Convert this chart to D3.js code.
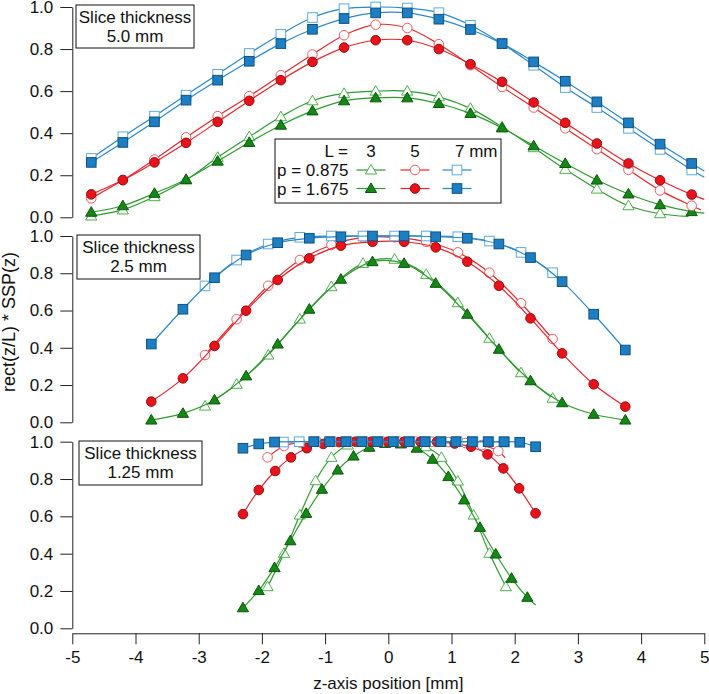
<!DOCTYPE html>
<html><head><meta charset="utf-8">
<script src="https://cdn.jsdelivr.net/npm/d3@7"></script>
<style>
body{margin:0;background:#fff}
text{font-family:"Liberation Sans",Arial,Helvetica,sans-serif}
</style>
</head><body>
<svg id="c" width="709" height="694"></svg>
<script>
// ---------- data ----------
const xTicks = [-5,-4,-3,-2,-1,0,1,2,3,4,5];
const yTicks = [0,0.2,0.4,0.6,0.8,1.0];
const legendCols = ["3","5","7 mm"];
const legendRows = ["p = 0.875","p = 1.675"];
const panelTitles = [["Slice thickness","5.0 mm"],["Slice thickness","2.5 mm"],["Slice thickness","1.25 mm"]];

// Slice thickness 5.0 mm
const topX = [-4.7,-4.2,-3.7,-3.2,-2.7,-2.2,-1.7,-1.2,-0.7,-0.2,0.3,0.8,1.3,1.8,2.3,2.8,3.3,3.8,4.3,4.8];
const topGreenOpenX = [-4.7,-4.2,-3.7,-3.2,-2.7,-2.2,-1.7,-1.2,-0.7,-0.2,0.3,0.8,1.3,1.8,2.3,2.8,3.3,3.8,4.3];
const topGreenOpen   = [0.006,0.035,0.098,0.177,0.285,0.383,0.478,0.554,0.589,0.600,0.600,0.573,0.518,0.430,0.331,0.228,0.134,0.055,0.017];
const topGreenFilled = [0.024,0.055,0.114,0.180,0.267,0.356,0.438,0.506,0.554,0.568,0.568,0.541,0.494,0.425,0.340,0.256,0.177,0.111,0.060,0.027];
const topRedOpen     = [0.090,0.177,0.275,0.380,0.481,0.576,0.676,0.774,0.866,0.916,0.900,0.823,0.723,0.620,0.522,0.423,0.324,0.226,0.128,0.055];
const topRedFilled   = [0.109,0.177,0.261,0.354,0.454,0.554,0.652,0.739,0.807,0.842,0.842,0.800,0.728,0.644,0.546,0.449,0.351,0.256,0.176,0.108];
const topBlueOpen    = [0.280,0.383,0.481,0.581,0.680,0.779,0.870,0.950,0.992,1.000,0.995,0.973,0.913,0.826,0.723,0.617,0.522,0.423,0.323,0.225];
const topBlueFilled  = [0.261,0.356,0.454,0.557,0.652,0.742,0.826,0.894,0.945,0.972,0.972,0.942,0.893,0.826,0.739,0.647,0.549,0.449,0.348,0.256];
// fitted-curve ends drawn past the last marker (z, value), line only
const topTails = {greenOpen:[4.75,0.004], greenFilled:[5.0,0.02], redOpen:[4.95,0.035], redFilled:[5.0,0.085], blueOpen:[5.0,0.19], blueFilled:[5.0,0.22]};

// Slice thickness 2.5 mm
const midFilledX = [-3.75,-3.25,-2.75,-2.25,-1.75,-1.25,-0.75,-0.25,0.25,0.75,1.25,1.75,2.25,2.75,3.25,3.75];
const midOpenX   = [-2.9,-2.4,-1.9,-1.4,-0.9,-0.4,0.1,0.6,1.1,1.6,2.1,2.6];
const midGreenFilled = [0.012,0.048,0.120,0.249,0.420,0.607,0.768,0.862,0.853,0.746,0.580,0.392,0.223,0.105,0.043,0.012];
const midGreenOpen   = [0.087,0.204,0.361,0.554,0.728,0.853,0.875,0.794,0.642,0.451,0.266,0.129];
const midRedFilled   = [0.111,0.236,0.410,0.599,0.764,0.880,0.948,0.969,0.969,0.939,0.862,0.733,0.558,0.370,0.204,0.084];
const midRedOpen     = [0.361,0.553,0.733,0.871,0.952,0.993,0.993,0.969,0.912,0.803,0.639,0.447];
const midBlueFilled  = [0.420,0.607,0.776,0.898,0.964,0.988,0.996,1.000,1.000,0.996,0.988,0.957,0.884,0.755,0.580,0.388];
const midBlueOpen    = [0.732,0.871,0.957,0.993,1.000,1.000,1.000,1.000,0.996,0.973,0.912,0.803];

// Slice thickness 1.25 mm
const botGreenFilledX = [-2.30,-2.05,-1.80,-1.55,-1.30,-1.05,-0.80,-0.55,-0.30,-0.05,0.20,0.45,0.70,0.95,1.20,1.45,1.70,1.95,2.20];
const botGreenFilled  = [0.110,0.202,0.325,0.469,0.616,0.745,0.848,0.923,0.970,0.991,0.988,0.965,0.906,0.813,0.688,0.541,0.398,0.268,0.166];
const botGreenOpenX   = [-1.91,-1.65,-1.40,-1.15,-0.90,-0.64,-0.39,-0.14,0.11,0.35,0.59,0.84,1.10,1.35,1.60,1.86];
const botGreenOpen    = [0.223,0.402,0.607,0.791,0.916,0.982,0.998,1.000,1.000,0.995,0.973,0.916,0.789,0.607,0.402,0.223];
const botRedFilledX   = [-2.30,-2.05,-1.79,-1.54,-1.29,-1.03,-0.78,-0.52,-0.27,-0.01,0.25,0.51,0.77,1.05,1.31,1.57,1.82,2.07,2.33];
const botRedFilled    = [0.612,0.741,0.843,0.916,0.965,0.988,0.998,1.000,1.000,1.000,1.000,1.000,0.999,0.990,0.973,0.932,0.857,0.750,0.616];
const botRedOpenX     = [-1.91,-1.65,-1.39,-1.13,-0.87,-0.61,-0.35,-0.09,0.17,0.43,0.69,0.95,1.22,1.48,1.74];
const botRedOpen      = [0.916,0.977,0.995,1.000,1.000,1.000,1.000,1.000,1.000,1.000,1.000,0.998,0.993,0.982,0.950];
const botBlueFilledX  = [-2.30,-2.05,-1.80,-1.18,-0.93,-0.67,-0.42,-0.17,0.08,0.33,0.58,0.83,1.07,1.33,1.58,1.83,2.08,2.33];
const botBlueFilled   = [0.965,0.988,0.998,1.000,1.000,1.000,1.000,1.000,1.000,1.000,1.000,1.000,1.000,1.000,1.000,1.000,0.997,0.973];
const botBlueOpenX    = [-1.66,-1.41,-1.16,-0.91,-0.66,-0.41,-0.16,0.09,0.34,0.59,0.84,1.09,1.34,1.59,1.84];
const botBlueOpen     = [0.998,1.000,1.000,1.000,1.000,1.000,1.000,1.000,1.000,1.000,1.000,1.000,1.000,1.000,0.998];
const botTails = {greenFilled:[2.33,0.125], redOpen:[1.85,0.913]};

// ---------- styles ----------
const COL = {
  green:{line:"#2f9a2f", fill:"#148814", stroke:"#0b560b", open:"#4db04d"},
  red:  {line:"#e8262c", fill:"#e8121b", stroke:"#9c0a0e", open:"#ef5b5b"},
  blue: {line:"#2a88cb", fill:"#1d7fc3", stroke:"#11507f", open:"#5eaadd"}
};
const SHAPE = {green:"tri", red:"circ", blue:"sq"};

const svg = d3.select("#c");
const x = d3.scaleLinear().domain([-5,5]).range([72.3,704.3]);

function mk(xs, ys, color, open, tail){
  return {pts: ys.map((v,i)=>[xs[i],v]), color, open, tail};
}

const panels = [
  {y:d3.scaleLinear().domain([0,1]).range([217.3,7]), box:[76,5,118,43], title:panelTitles[0],
   series:[mk(topGreenOpenX,topGreenOpen,"green",true,topTails.greenOpen), mk(topX,topGreenFilled,"green",false,topTails.greenFilled),
           mk(topX,topRedOpen,"red",true,topTails.redOpen), mk(topX,topRedFilled,"red",false,topTails.redFilled),
           mk(topX,topBlueOpen,"blue",true,topTails.blueOpen), mk(topX,topBlueFilled,"blue",false,topTails.blueFilled)]},
  {y:d3.scaleLinear().domain([0,1]).range([422.3,236]), box:[77,235,123,44], title:panelTitles[1],
   series:[mk(midOpenX,midGreenOpen,"green",true), mk(midFilledX,midGreenFilled,"green",false),
           mk(midOpenX,midRedOpen,"red",true), mk(midFilledX,midRedFilled,"red",false),
           mk(midOpenX,midBlueOpen,"blue",true), mk(midFilledX,midBlueFilled,"blue",false)]},
  {y:d3.scaleLinear().domain([0,1]).range([628.3,441.7]), box:[79,441,123,44], title:panelTitles[2],
   series:[mk(botGreenOpenX,botGreenOpen,"green",true), mk(botGreenFilledX,botGreenFilled,"green",false,botTails.greenFilled),
           mk(botRedOpenX,botRedOpen,"red",true,botTails.redOpen), mk(botRedFilledX,botRedFilled,"red",false),
           mk(botBlueOpenX,botBlueOpen,"blue",true), mk(botBlueFilledX,botBlueFilled,"blue",false)]}
];

function marker(g, shape, cx, cy, color, open){
  const c = COL[color];
  const fill = open ? "#fff" : c.fill;
  const stroke = open ? c.open : c.stroke;
  if(shape==="circ"){
    g.append("circle").attr("cx",cx).attr("cy",cy).attr("r",4.8)
      .attr("fill",fill).attr("stroke",stroke).attr("stroke-width",1);
  } else if(shape==="sq"){
    g.append("rect").attr("x",cx-4.8).attr("y",cy-4.8).attr("width",9.6).attr("height",9.6)
      .attr("fill",fill).attr("stroke",stroke).attr("stroke-width",1);
  } else {
    g.append("path").attr("d",`M${cx},${cy-5.6}L${cx+5.6},${cy+4}L${cx-5.6},${cy+4}Z`)
      .attr("fill",fill).attr("stroke",stroke).attr("stroke-width",1);
  }
}

panels.forEach(p=>{
  const ax = svg.append("g").attr("transform","translate(72.3,0)")
    .call(d3.axisLeft(p.y).tickValues(yTicks).tickSize(12).tickSizeOuter(0).tickPadding(7)
      .tickFormat(d3.format(".1f")));
  ax.selectAll("path,line").attr("stroke","#222").attr("stroke-width",1);
  ax.selectAll("text").attr("font-size",17).attr("fill","#111")
    .attr("font-family",'"Liberation Sans",Arial,sans-serif');

  const [bx,by,bw,bh] = p.box;
  svg.append("rect").attr("x",bx).attr("y",by).attr("width",bw).attr("height",bh)
    .attr("fill","#fff").attr("stroke","#111").attr("stroke-width",1);
  p.title.forEach((t,i)=>{
    svg.append("text").attr("x",bx+bw/2).attr("y",by+18+i*19).attr("text-anchor","middle")
      .attr("font-size",17).attr("fill","#111").text(t);
  });

  const line = d3.line().x(d=>x(d[0])).y(d=>p.y(d[1])).curve(d3.curveCatmullRom.alpha(0.5));
  const g = svg.append("g");
  p.series.forEach(s=>{
    const lp = s.tail ? s.pts.concat([s.tail]) : s.pts;
    g.append("path").attr("d",line(lp)).attr("fill","none")
      .attr("stroke",COL[s.color].line).attr("stroke-width",1.2);
    s.pts.forEach(d=>marker(g, SHAPE[s.color], x(d[0]), p.y(d[1]), s.color, s.open));
  });
});

// x axis
const xa = svg.append("g").attr("transform","translate(0,633.3)")
  .call(d3.axisBottom(x).tickValues(xTicks).tickSize(11).tickSizeOuter(0).tickPadding(7)
    .tickFormat(d=>String(d)));
xa.selectAll("path,line").attr("stroke","#222").attr("stroke-width",1);
xa.selectAll("text").attr("font-size",17).attr("fill","#111")
  .attr("font-family",'"Liberation Sans",Arial,sans-serif');

svg.append("text").attr("x",388.3).attr("y",689).attr("text-anchor","middle")
  .attr("font-size",17).attr("fill","#111").text("z-axis position [mm]");
svg.append("text").attr("transform","translate(15,322) rotate(-90)").attr("text-anchor","middle")
  .attr("font-size",18).attr("fill","#111").text("rect(z/L) * SSP(z)");

// legend
const lg = svg.append("g");
lg.append("rect").attr("x",275).attr("y",139).attr("width",226).attr("height",64)
  .attr("fill","#fff").attr("stroke","#111").attr("stroke-width",1);
lg.append("text").attr("x",348).attr("y",157).attr("text-anchor","end").attr("font-size",17).attr("fill","#111").text("L =");
const colX = [371,415,457];
const colors = ["green","red","blue"];
lg.append("text").attr("x",colX[0]).attr("y",157).attr("text-anchor","middle").attr("font-size",17).attr("fill","#111").text(legendCols[0]);
lg.append("text").attr("x",colX[1]).attr("y",157).attr("text-anchor","middle").attr("font-size",17).attr("fill","#111").text(legendCols[1]);
lg.append("text").attr("x",455).attr("y",157).attr("text-anchor","start").attr("font-size",17).attr("fill","#111").text(legendCols[2]);
legendRows.forEach((r,ri)=>{
  const cy = 170 + ri*18.5;
  lg.append("text").attr("x",277).attr("y",cy+6).attr("font-size",17).attr("fill","#111").text(r);
  colors.forEach((c,ci)=>{
    lg.append("line").attr("x1",colX[ci]-14.5).attr("x2",colX[ci]+14.5).attr("y1",cy).attr("y2",cy)
      .attr("stroke",COL[c].line).attr("stroke-width",1.2);
    marker(lg, SHAPE[c], colX[ci], cy, c, ri===0);
  });
});
</script>
</body></html>
